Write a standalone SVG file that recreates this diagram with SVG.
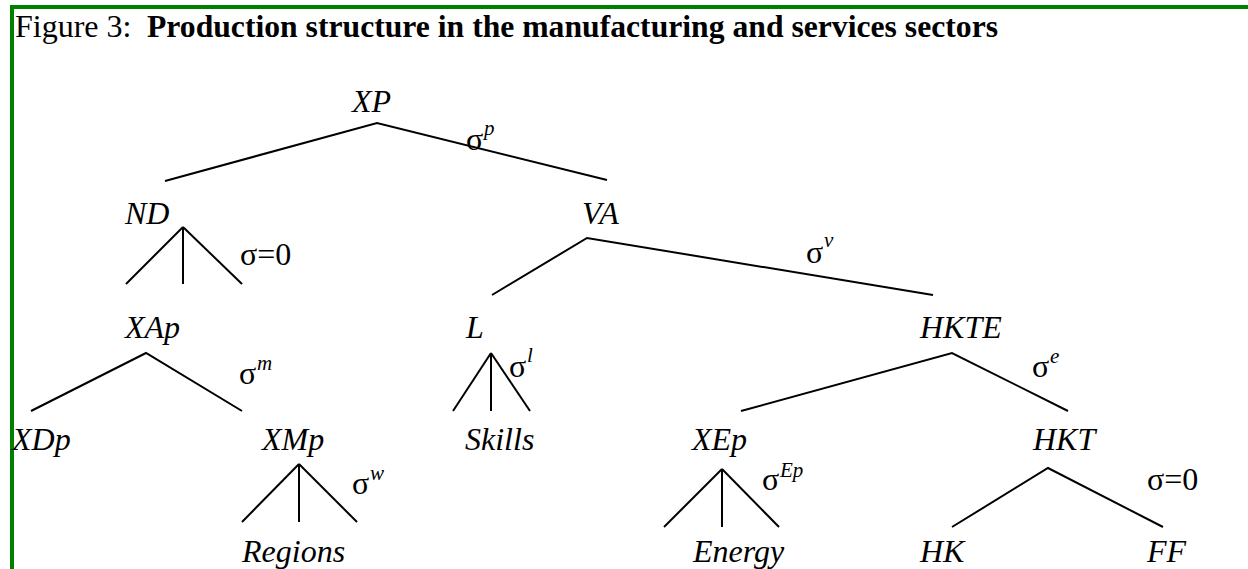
<svg xmlns="http://www.w3.org/2000/svg" width="1248" height="569" viewBox="0 0 1248 569">
<style>
  .t { font-family: "Liberation Serif", "Times New Roman", serif; font-size: 32px; fill: #000; }
  .n { font-style: italic; }
  .b { font-weight: bold; }
  .s { font-family: "Liberation Serif", "Times New Roman", serif; font-size: 32px; fill: #000; }
  .sup { font-family: "Liberation Serif", "Times New Roman", serif; font-size: 21px; font-style: italic; fill: #000; }
  .e { stroke: #000; stroke-width: 2; fill: none; stroke-linecap: butt; }
</style>
<rect x="0" y="0" width="1248" height="569" fill="#fff"/>
<g id="frame">
  <rect x="10" y="5" width="1238" height="4" fill="#008000"/>
  <rect x="10" y="5" width="4" height="564" fill="#008000"/>
</g>
<g id="title">
  <text class="t" x="15" y="37">Figure 3: </text>
  <text class="t b" x="147" y="37" textLength="851" lengthAdjust="spacingAndGlyphs">Production structure in the manufacturing and services sectors</text>
</g>
<g id="connectors">
  <polyline class="e" points="165,181 377,123 607,180"/>
  <line class="e" x1="183" y1="227" x2="126" y2="284"/>
  <line class="e" x1="183" y1="227" x2="183" y2="284"/>
  <line class="e" x1="183" y1="227" x2="242" y2="284"/>
  <polyline class="e" points="492,295 587,238 933,295"/>
  <polyline class="e" points="31,411 146,353 242,411"/>
  <line class="e" x1="491" y1="353" x2="453" y2="411"/>
  <line class="e" x1="491" y1="353" x2="491" y2="411"/>
  <line class="e" x1="491" y1="353" x2="530" y2="411"/>
  <polyline class="e" points="741,411 952,353 1068,411"/>
  <line class="e" x1="299" y1="464" x2="242" y2="522"/>
  <line class="e" x1="299" y1="464" x2="299" y2="522"/>
  <line class="e" x1="299" y1="464" x2="357" y2="522"/>
  <line class="e" x1="722" y1="469" x2="664" y2="527"/>
  <line class="e" x1="722" y1="469" x2="722" y2="527"/>
  <line class="e" x1="722" y1="469" x2="779" y2="527"/>
  <polyline class="e" points="952,527 1048,468 1163,527"/>
</g>
<g id="node-XP"><text class="t n" x="352" y="112">XP</text></g>
<g id="sigma-p"><text class="s" x="466" y="150">σ</text><text class="sup" x="484" y="135">p</text></g>
<g id="node-ND"><text class="t n" x="125" y="224">ND</text></g>
<g id="sigma-ND"><text class="s" x="240" y="265">σ=0</text></g>
<g id="node-VA"><text class="t n" x="582" y="224">VA</text></g>
<g id="sigma-v"><text class="s" x="806" y="263">σ</text><text class="sup" x="824" y="247">v</text></g>
<g id="node-XAp"><text class="t n" x="125" y="338">XAp</text></g>
<g id="sigma-m"><text class="s" x="239" y="384">σ</text><text class="sup" x="257" y="370">m</text></g>
<g id="node-L"><text class="t n" x="466" y="338">L</text></g>
<g id="sigma-l"><text class="s" x="509" y="377">σ</text><text class="sup" x="527" y="362">l</text></g>
<g id="node-HKTE"><text class="t n" x="920" y="338">HKTE</text></g>
<g id="sigma-e"><text class="s" x="1032" y="377">σ</text><text class="sup" x="1050" y="363">e</text></g>
<g id="node-XDp"><text class="t n" x="12" y="450">XDp</text></g>
<g id="node-XMp"><text class="t n" x="262" y="450">XMp</text></g>
<g id="sigma-w"><text class="s" x="352" y="494">σ</text><text class="sup" x="370" y="480">w</text></g>
<g id="node-Skills"><text class="t n" x="465" y="450">Skills</text></g>
<g id="node-XEp"><text class="t n" x="692" y="450">XEp</text></g>
<g id="sigma-Ep"><text class="s" x="762" y="490">σ</text><text class="sup" x="780" y="477">Ep</text></g>
<g id="node-HKT"><text class="t n" x="1033" y="450">HKT</text></g>
<g id="sigma-HKT"><text class="s" x="1147" y="490">σ=0</text></g>
<g id="node-Regions"><text class="t n" x="242" y="562">Regions</text></g>
<g id="node-Energy"><text class="t n" x="693" y="562">Energy</text></g>
<g id="node-HK"><text class="t n" x="920" y="562">HK</text></g>
<g id="node-FF"><text class="t n" x="1147" y="562">FF</text></g>
</svg>
